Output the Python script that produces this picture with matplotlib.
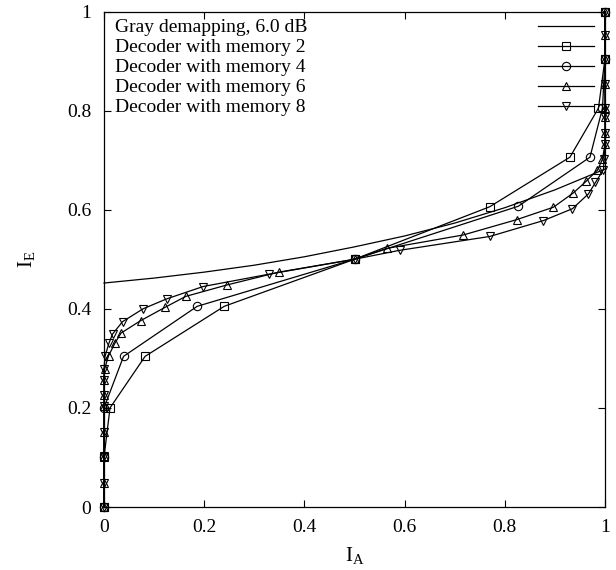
import matplotlib
matplotlib.use("Agg")
import matplotlib.pyplot as plt
from matplotlib.lines import Line2D

plt.rcParams['font.family'] = ['Liberation Serif', 'DejaVu Serif']
plt.rcParams['mathtext.fontset'] = 'custom'
plt.rcParams['mathtext.rm'] = 'Liberation Serif'
plt.rcParams['mathtext.it'] = 'Liberation Serif'

# ---- data ----
gray_x = [0.0, 0.1, 0.2, 0.3, 0.4, 0.5, 0.6, 0.7, 0.8, 0.9, 1.0]
gray_y = [0.452, 0.462, 0.474, 0.488, 0.505, 0.525, 0.547, 0.573, 0.604, 0.640, 0.682]

mem2_x = [0, 0, 0.012, 0.082, 0.240, 0.500, 0.770, 0.930, 0.987, 1.0, 1.0]
mem2_y = [0, 0.1, 0.2, 0.304, 0.405, 0.5, 0.606, 0.706, 0.805, 0.905, 1.0]

mem4_x = [0, 0, 0, 0.039, 0.186, 0.5, 0.827, 0.970, 0.995, 1.0, 1.0]
mem4_y = [0, 0.1, 0.2, 0.304, 0.405, 0.5, 0.607, 0.706, 0.805, 0.905, 1.0]

mem6_x = [0, 0, 0, 0, 0, 0, 0, 0.001, 0.009, 0.022, 0.034, 0.073, 0.122, 0.163,
          0.245, 0.349, 0.500, 0.565, 0.717, 0.824, 0.897, 0.937, 0.962, 0.985,
          0.995, 1, 1, 1, 1, 1, 1, 1, 1]
mem6_y = [0, 0.049, 0.102, 0.152, 0.203, 0.226, 0.257, 0.278, 0.305, 0.331, 0.351,
          0.376, 0.403, 0.425, 0.448, 0.474, 0.500, 0.522, 0.549, 0.580, 0.605,
          0.634, 0.657, 0.680, 0.702, 0.733, 0.754, 0.787, 0.805, 0.853, 0.905,
          0.952, 1.0]

mem8_x = [0, 0, 0, 0, 0, 0, 0, 0, 0.002, 0.010, 0.017, 0.037, 0.078, 0.125,
          0.198, 0.330, 0.500, 0.590, 0.770, 0.877, 0.935, 0.967, 0.981, 0.997,
          0.998, 1, 1, 1, 1, 1, 1, 1, 1]
mem8_y = [0, 0.049, 0.102, 0.152, 0.203, 0.226, 0.257, 0.278, 0.304, 0.331, 0.349,
          0.374, 0.400, 0.420, 0.445, 0.470, 0.500, 0.518, 0.546, 0.578, 0.602,
          0.632, 0.655, 0.681, 0.702, 0.733, 0.754, 0.787, 0.805, 0.853, 0.905,
          0.952, 1.0]

labels = ["Gray demapping, 6.0 dB", "Decoder with memory 2", "Decoder with memory 4",
          "Decoder with memory 6", "Decoder with memory 8"]
ticks = [0, 0.2, 0.4, 0.6, 0.8, 1]
tick_labels = ["0", "0.2", "0.4", "0.6", "0.8", "1"]

# ---- figure ----
fig = plt.figure(figsize=(6.16, 5.70), dpi=100)
ax = fig.add_axes([104/616, 1-507/570, 501/616, 495.5/570])

lw = 0.9
ms = 6
mk = dict(color='black', lw=lw, ms=ms, mfc='none', mew=0.8, clip_on=False)
ax.plot(gray_x, gray_y, color='black', lw=lw, clip_on=False)
ax.plot(mem2_x, mem2_y, marker='s', **mk)
ax.plot(mem4_x, mem4_y, marker='o', **mk)
ax.plot(mem6_x, mem6_y, marker='^', **mk)
ax.plot(mem8_x, mem8_y, marker='v', **mk)

ax.set_xlim(0, 1)
ax.set_ylim(0, 1)
ax.set_xticks(ticks)
ax.set_xticklabels(tick_labels)
ax.set_yticks(ticks)
ax.set_yticklabels(tick_labels)
ax.tick_params(direction='in', length=5, width=0.8, top=True, right=True,
               labelsize=14, pad=9)
for s in ax.spines.values():
    s.set_linewidth(0.9)

ax.set_xlabel(r'I$_\mathrm{A}$', fontsize=15, labelpad=6)
ax.set_ylabel(r'I$_\mathrm{E}$', fontsize=15, labelpad=22)

# ---- legend (gnuplot style: text left, sample right) ----
markers = [None, 's', 'o', '^', 'v']
row_px = [26, 46, 66, 86, 106]
for lab, m, py in zip(labels, markers, row_px):
    yy = 1 - (py - 11.5) / 495.5
    yb = 1 - (py + 5.5 - 11.5) / 495.5
    ax.text(0.022, yb, lab, transform=ax.transAxes, fontsize=14,
            va='baseline', ha='left')
    ax.add_line(Line2D([0.866, 0.978], [yy, yy], transform=ax.transAxes,
                       color='black', lw=lw))
    if m is not None:
        ax.add_line(Line2D([0.922], [yy], transform=ax.transAxes, marker=m,
                           color='black', ms=ms, mfc='none', mew=0.8))

fig.savefig("out.png", dpi=100)
